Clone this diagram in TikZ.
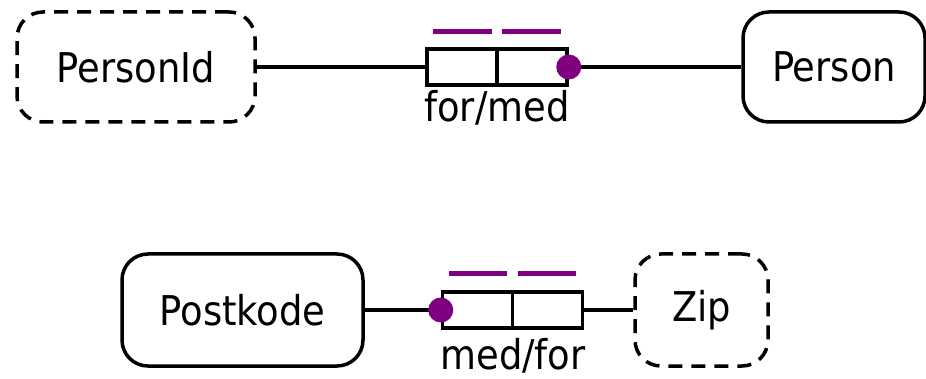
\documentclass[tikz,border=0pt]{standalone}
\usepackage{fontspec}
\setmainfont{DejaVu Sans Condensed}
\definecolor{ormpurple}{RGB}{128,0,128}
\begin{document}
\begin{tikzpicture}[x=1pt,y=-1pt,
  every node/.style={font=\fontsize{41}{49}\selectfont, inner sep=0pt},
  entity/.style={draw, line width=3.5pt, rounded corners=26pt},
  valuetype/.style={draw, line width=3.5pt, rounded corners=26pt, dash pattern=on 14pt off 9pt},
  rolebox/.style={draw, line width=3.5pt, minimum width=70pt, minimum height=36pt},
  conn/.style={line width=3.5pt},
  ubar/.style={draw=ormpurple, line width=5pt},
  mandot/.style={fill=ormpurple}]
\useasboundingbox (0,0) rectangle (926,379);
% top fact
\node[valuetype, minimum width=238pt, minimum height=110pt] (pid) at (136,67) {PersonId};
\node[entity, minimum width=182pt, minimum height=110pt] (person) at (834,67) {Person};
\node[rolebox] (r1a) at (462,67) {};
\node[rolebox] (r1b) at (532,67) {};
\node[anchor=base] (l1) at (497,122) {for/med};
\draw[conn] (pid.east) -- (r1a.west);
\draw[conn] (r1b.east) -- (person.west);
\fill[mandot] (r1b.east) circle (12.5pt);
\draw[ubar] ([xshift=8pt,yshift=16pt]r1a.north west) -- ([xshift=-7pt,yshift=16pt]r1a.north east);
\draw[ubar] ([xshift=7pt,yshift=16pt]r1b.north west) -- ([xshift=-8pt,yshift=16pt]r1b.north east);
% bottom fact
\node[entity, minimum width=241pt, minimum height=112pt] (postkode) at (242.5,310) {Postkode};
\node[valuetype, minimum width=133pt, minimum height=112pt] (zip) at (701.5,310) {Zip};
\node[rolebox] (r2a) at (477.5,310) {};
\node[rolebox] (r2b) at (547.5,310) {};
\node[anchor=base] (l2) at (513,369) {med/for};
\draw[conn] (postkode.east) -- (r2a.west);
\draw[conn] (r2b.east) -- (zip.west);
\fill[mandot] (r2a.west) circle (12.5pt);
\draw[ubar] ([xshift=8pt,yshift=17pt]r2a.north west) -- ([xshift=-7pt,yshift=17pt]r2a.north east);
\draw[ubar] ([xshift=7pt,yshift=17pt]r2b.north west) -- ([xshift=-8pt,yshift=17pt]r2b.north east);
\end{tikzpicture}
\end{document}
